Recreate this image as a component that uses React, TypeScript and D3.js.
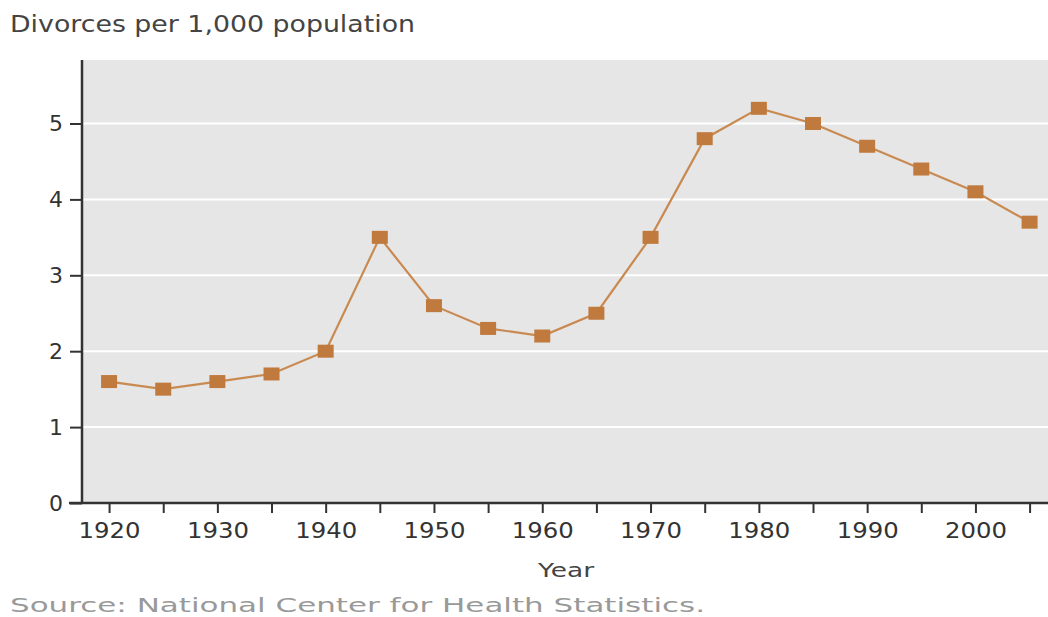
import React, { useEffect, useRef } from "react";
import * as d3 from "d3";

const years = [1920, 1925, 1930, 1935, 1940, 1945, 1950, 1955, 1960, 1965, 1970, 1975, 1980, 1985, 1990, 1995, 2000, 2005];
const divorceRates = [1.6, 1.5, 1.6, 1.7, 2.0, 3.5, 2.6, 2.3, 2.2, 2.5, 3.5, 4.8, 5.2, 5.0, 4.7, 4.4, 4.1, 3.7];
const yTicks = [0, 1, 2, 3, 4, 5];
const xLabelYears = [1920, 1930, 1940, 1950, 1960, 1970, 1980, 1990, 2000];

const W = 1048, H = 617;
const font = "'DejaVu Sans', Verdana, sans-serif";

export default function App() {
  const ref = useRef<SVGSVGElement>(null);

  useEffect(() => {
    const svg = d3.select(ref.current);
    svg.selectAll("*").remove();

    const left = 82, top = 60, bottom = 503, right = 1048;
    const x = d3.scaleLinear().domain([1917.5, 2006.7]).range([left, right]);
    const y = d3.scaleLinear().domain([0, 5]).range([bottom, 123.5]);

    // plot background
    svg.append("rect").attr("x", left).attr("y", top).attr("width", right - left).attr("height", bottom - top).attr("fill", "#e6e6e6");

    // gridlines
    svg.append("g").selectAll("line").data(yTicks.filter(t => t > 0)).join("line")
      .attr("x1", left).attr("x2", right)
      .attr("y1", d => y(d)).attr("y2", d => y(d))
      .attr("stroke", "#ffffff").attr("stroke-width", 2);

    // y axis
    const yAxis = svg.append("g").attr("transform", `translate(${left},0)`)
      .call(d3.axisLeft(y).tickValues(yTicks).tickSize(12).tickPadding(7).tickFormat(d3.format("d")));
    yAxis.select(".domain").remove();
    yAxis.selectAll(".tick line").attr("stroke", "#333").attr("stroke-width", 2);
    yAxis.selectAll(".tick text").attr("font-family", font).attr("font-size", 22).attr("fill", "#333");
    svg.append("line").attr("x1", left).attr("x2", left).attr("y1", top).attr("y2", bottom + 1)
      .attr("stroke", "#333").attr("stroke-width", 2.5);

    // x axis
    const xAxis = svg.append("g").attr("transform", `translate(0,${bottom})`)
      .call(d3.axisBottom(x).tickValues(years).tickSize(10).tickPadding(9)
        .tickFormat(d => (xLabelYears.includes(+d) ? String(d) : "")));
    xAxis.select(".domain").remove();
    xAxis.selectAll(".tick line").attr("stroke", "#333").attr("stroke-width", 2);
    xAxis.selectAll(".tick text").attr("font-family", font).attr("font-size", 22).attr("fill", "#333")
      .attr("textLength", 62).attr("lengthAdjust", "spacingAndGlyphs");
    svg.append("line").attr("x1", 69).attr("x2", right).attr("y1", bottom).attr("y2", bottom)
      .attr("stroke", "#333").attr("stroke-width", 2.5);

    // line + markers
    const pts = years.map((yr, i) => [yr, divorceRates[i]] as [number, number]);
    const line = d3.line<[number, number]>().x(d => x(d[0])).y(d => y(d[1]));
    svg.append("path").datum(pts).attr("d", line).attr("fill", "none")
      .attr("stroke", "#c98a52").attr("stroke-width", 2.2);
    svg.append("g").selectAll("rect").data(pts).join("rect")
      .attr("x", d => x(d[0]) - 8).attr("y", d => y(d[1]) - 6.5)
      .attr("width", 16).attr("height", 13)
      .attr("fill", "#c07a3e");

    // texts
    svg.append("text").attr("x", 10).attr("y", 32).text("Divorces per 1,000 population")
      .attr("font-family", font).attr("font-size", 23).attr("fill", "#444")
      .attr("textLength", 405).attr("lengthAdjust", "spacingAndGlyphs");
    svg.append("text").attr("x", 538).attr("y", 577).text("Year")
      .attr("font-family", font).attr("font-size", 20).attr("fill", "#444")
      .attr("textLength", 56).attr("lengthAdjust", "spacingAndGlyphs");
    svg.append("text").attr("x", 10).attr("y", 612).text("Source: National Center for Health Statistics.")
      .attr("font-family", font).attr("font-size", 19).attr("fill", "#999")
      .attr("textLength", 695).attr("lengthAdjust", "spacingAndGlyphs");
  }, []);

  return (
    <svg ref={ref} width={W} height={H} style={{ position: "absolute", left: 0, top: 0, background: "#fff" }} />
  );
}
